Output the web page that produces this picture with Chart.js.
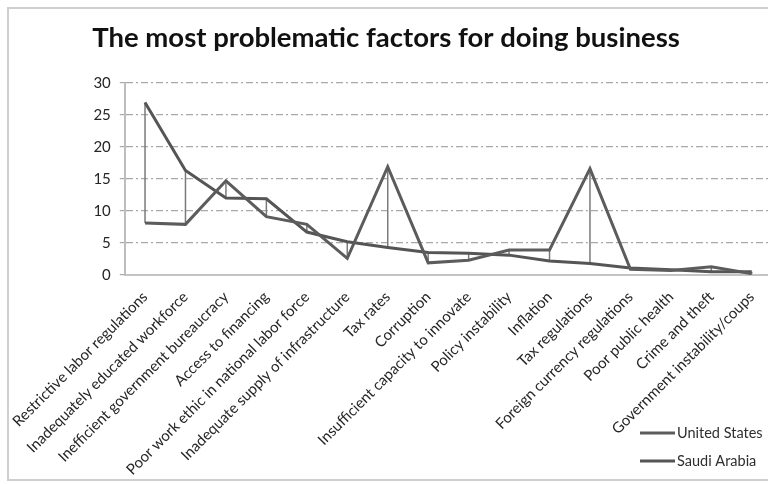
<!DOCTYPE html>
<html>
<head>
<meta charset="utf-8">
<script src="https://cdn.jsdelivr.net/npm/chart.js@4/dist/chart.umd.min.js"></script>
<style>
html,body{margin:0;padding:0;background:#fff;overflow:hidden;}
#wrap{position:absolute;left:0;top:0;width:777px;height:484px;}
</style>
</head>
<body>
<div id="wrap"><canvas id="c"></canvas></div>
<script>
const TITLE = 'The most problematic factors for doing business';
const categories = [
  'Restrictive labor regulations',
  'Inadequately educated workforce',
  'Inefficient government bureaucracy',
  'Access to financing',
  'Poor work ethic in national labor force',
  'Inadequate supply of infrastructure',
  'Tax rates',
  'Corruption',
  'Insufficient capacity to innovate',
  'Policy instability',
  'Inflation',
  'Tax regulations',
  'Foreign currency regulations',
  'Poor public health',
  'Crime and theft',
  'Government instability/coups'
];
const unitedStates = [8.1, 7.9, 14.7, 9.1, 7.9, 2.6, 16.9, 1.9, 2.3, 3.9, 3.9, 16.6, 0.9, 0.7, 1.3, 0.2];
const saudiArabia  = [26.9, 16.3, 12.0, 11.9, 6.7, 5.2, 4.3, 3.5, 3.4, 3.1, 2.2, 1.8, 1.1, 0.8, 0.5, 0.5];
const yTicks = [0, 5, 10, 15, 20, 25, 30];

const FONT = 'Lato, "Open Sans", sans-serif';

const framePlugin = {
  id: 'frame',
  beforeDraw(chart) {
    const ctx = chart.ctx;
    ctx.save();
    ctx.strokeStyle = '#cfcfcf';
    ctx.lineWidth = 2;
    ctx.strokeRect(8, 8, 820, 472);
    ctx.restore();
  }
};

const hiLoPlugin = {
  id: 'hilo',
  beforeDatasetsDraw(chart) {
    const ctx = chart.ctx;
    const xs = chart.scales.x, ys = chart.scales.y;
    const a = chart.data.datasets[0].data, b = chart.data.datasets[1].data;
    ctx.save();
    ctx.strokeStyle = '#7a7a7a';
    ctx.lineWidth = 1.5;
    for (let i = 0; i < a.length; i++) {
      const x = xs.getPixelForValue(i);
      ctx.beginPath();
      ctx.moveTo(x, ys.getPixelForValue(a[i]));
      ctx.lineTo(x, ys.getPixelForValue(b[i]));
      ctx.stroke();
    }
    ctx.restore();
  }
};

const legendPlugin = {
  id: 'customLegend',
  afterDraw(chart) {
    const ctx = chart.ctx;
    ctx.save();
    ctx.font = '14.5px ' + FONT;
    ctx.textBaseline = 'middle';
    ctx.textAlign = 'left';
    chart.data.datasets.forEach((ds, i) => {
      const y = 433 + i * 28;
      ctx.strokeStyle = ds.borderColor;
      ctx.lineWidth = 3;
      ctx.beginPath();
      ctx.moveTo(640, y);
      ctx.lineTo(675, y);
      ctx.stroke();
      ctx.fillStyle = '#2e2e2e';
      ctx.fillText(ds.label, 677, y);
    });
    ctx.restore();
  }
};

new Chart(document.getElementById('c'), {
  type: 'line',
  data: {
    labels: categories,
    datasets: [
      { label: 'United States', data: unitedStates, borderColor: '#5c5c5c', borderWidth: 3, pointRadius: 0, tension: 0, fill: false },
      { label: 'Saudi Arabia', data: saudiArabia, borderColor: '#555555', borderWidth: 3, pointRadius: 0, tension: 0, fill: false }
    ]
  },
  options: {
    responsive: true,
    maintainAspectRatio: false,
    animation: false,
    layout: { padding: { top: 0, left: 0, right: 5, bottom: 0 } },
    plugins: {
      legend: { display: false },
      tooltip: { enabled: false },
      title: {
        display: true,
        text: TITLE,
        color: '#111',
        font: { family: FONT, size: 27.5, weight: 'bold' },
        padding: { top: 22, bottom: 27.7 }
      }
    },
    scales: {
      x: {
        offset: true,
        grid: { display: false },
        border: { display: true, color: '#c4c4c4', width: 2 },
        ticks: {
          autoSkip: false,
          maxRotation: 45,
          minRotation: 45,
          padding: 5,
          color: '#262626',
          font: { family: FONT, size: 15 }
        },
        afterFit(scale) { scale.height = 209; }
      },
      y: {
        min: 0,
        max: 30,
        afterBuildTicks(scale) { scale.ticks = yTicks.map(v => ({ value: v })); },
        grid: {
          color: (c) => (c.tick && c.tick.value === 0) ? 'rgba(0,0,0,0)' : '#a8a8a8',
          lineWidth: 1.2,
          drawTicks: true,
          tickLength: 5,
          tickColor: '#a8a8a8'
        },
        border: { display: true, color: '#bdbdbd', width: 2, dash: [7, 3, 2, 3] },
        ticks: {
          padding: 9,
          color: '#262626',
          font: { family: FONT, size: 15 }
        },
        afterFit(scale) { scale.width = 124.8; }
      }
    }
  },
  plugins: [framePlugin, hiLoPlugin, legendPlugin]
});
</script>
</body>
</html>
